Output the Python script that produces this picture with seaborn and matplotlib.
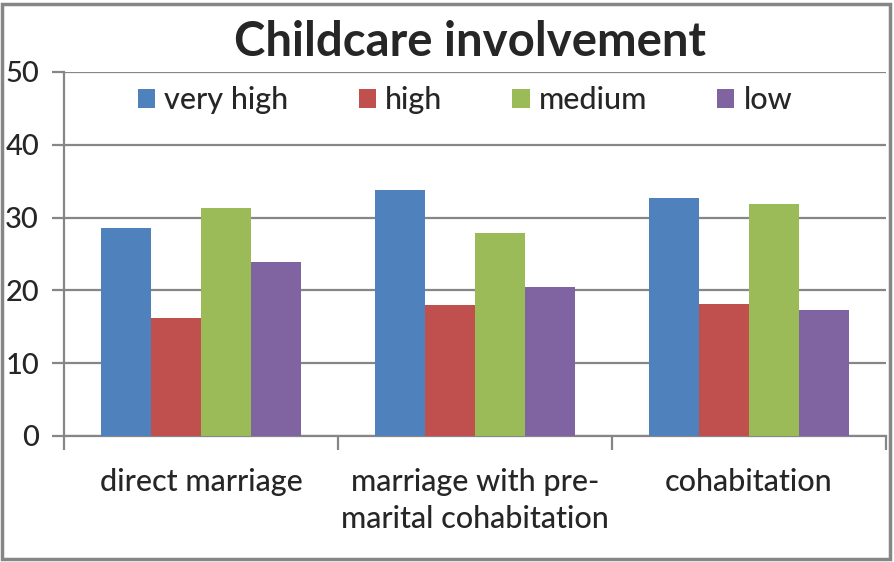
import matplotlib
matplotlib.use("Agg")
import matplotlib.pyplot as plt
import seaborn as sns
import pandas as pd
from matplotlib.patches import Rectangle
from matplotlib.ticker import FixedLocator, NullFormatter

categories = ["direct marriage", "marriage with pre-\nmarital cohabitation", "cohabitation"]
series = ["very high", "high", "medium", "low"]
very_high = [28.6, 33.8, 32.7]
high = [16.2, 18.0, 18.1]
medium = [31.3, 27.9, 31.9]
low = [23.9, 20.5, 17.3]
colors = ["#4F81BD", "#C0504D", "#9BBB59", "#8064A2"]
yticks = [0, 10, 20, 30, 40, 50]
title = "Childcare involvement"

rows = []
for s, vals in zip(series, [very_high, high, medium, low]):
    for c, v in zip(categories, vals):
        rows.append({"category": c, "level": s, "value": v})
df = pd.DataFrame(rows)

sns.set_style("white")
plt.rcParams["font.family"] = ["Lato", "DejaVu Sans"]

fig = plt.figure(figsize=(8.94, 5.62), dpi=100)
ax = fig.add_axes([64/894, 1-436/562, (886-64)/894, (436-72)/562])

sns.barplot(data=df, x="category", y="value", hue="level", order=categories,
            hue_order=series, palette=colors, width=0.73, saturation=1,
            ax=ax, zorder=3, linewidth=0)

ax.set_ylim(0, 50)
ax.set_xlim(-0.5, 2.5)
ax.set_yticks(yticks)
ax.set_yticklabels([str(t) for t in yticks], fontsize=21, fontweight="medium")
ax.yaxis.grid(True, color="#868686", linewidth=1.6, zorder=0)
ax.set_axisbelow(True)
ax.set_xlabel("")
ax.set_ylabel("")
ax.tick_params(axis="y", direction="out", length=9, width=1.6, color="#868686", pad=9, left=True)
ax.tick_params(axis="x", which="major", length=0, pad=23)
for lbl in ax.get_xticklabels():
    lbl.set_fontsize(22)
    lbl.set_fontweight("medium")
    lbl.set_linespacing(1.4)
ax.xaxis.set_minor_locator(FixedLocator([-0.5, 0.5, 1.5, 2.5]))
ax.xaxis.set_minor_formatter(NullFormatter())
ax.tick_params(axis="x", which="minor", direction="out", length=10, width=1.6, color="#868686", bottom=True)
for sp in ["top", "right"]:
    ax.spines[sp].set_visible(False)
for sp in ["left", "bottom"]:
    ax.spines[sp].set_color("#868686")
    ax.spines[sp].set_linewidth(1.6)

leg = ax.legend(loc="center", bbox_to_anchor=(0.488, 0.923), ncol=4, frameon=False,
                prop={"size": 22, "weight": "medium"}, handlelength=0.56, handleheight=0.56,
                columnspacing=2.3, handletextpad=0.3)

fig.text(470/894, 1-42/562, title, ha="center", va="center", fontsize=34, fontweight="bold")

fig.patches.append(Rectangle((2/894, 3/562), 888/894, 555/562, transform=fig.transFigure,
                             fill=False, edgecolor="#868686", linewidth=2.5))

fig.savefig("out.png", dpi=100)
